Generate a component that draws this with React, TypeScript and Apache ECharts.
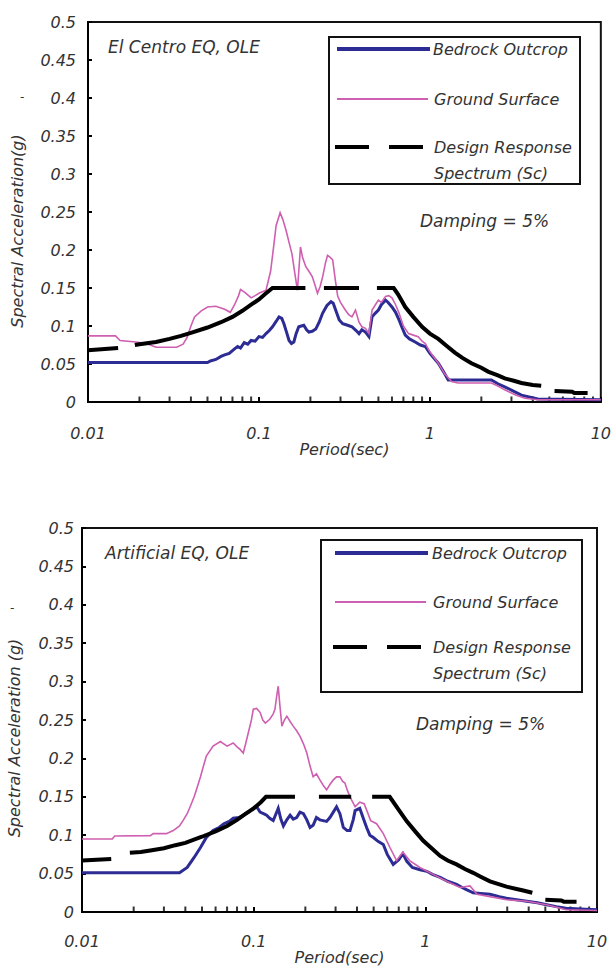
import React, { useEffect, useRef } from "react";
import * as echarts from "echarts";

const FONT = "DejaVu Sans";

const xTickValues = [0.01, 0.1, 1, 10];
const yTickInterval = 0.05;
const minorTicks = [
  0.02, 0.03, 0.04, 0.05, 0.06, 0.07, 0.08, 0.09,
  0.2, 0.3, 0.4, 0.5, 0.6, 0.7, 0.8, 0.9,
  2, 3, 4, 5, 6, 7, 8, 9,
];

const seriesNames = ["Bedrock Outcrop", "Ground Surface", "Design Response Spectrum (Sc)"];
const chartTitles = ["El Centro EQ, OLE", "Artificial EQ, OLE"];

// ---------- Top chart: El Centro EQ, OLE ----------
const bedrockTop: (number | string)[][] = [
  [0.01, 0.052], [0.05, 0.052], [0.052, 0.054], [0.056, 0.056], [0.06, 0.06], [0.063, 0.062],
  [0.067, 0.064], [0.072, 0.07], [0.075, 0.073], [0.078, 0.071], [0.082, 0.078], [0.086, 0.076],
  [0.09, 0.081], [0.095, 0.08], [0.1, 0.086], [0.105, 0.085], [0.11, 0.09], [0.115, 0.094],
  [0.12, 0.099], [0.126, 0.106], [0.131, 0.112], [0.136, 0.11], [0.14, 0.103], [0.145, 0.092],
  [0.15, 0.081], [0.155, 0.077], [0.16, 0.079], [0.165, 0.09], [0.171, 0.099], [0.177, 0.1],
  [0.183, 0.101], [0.19, 0.095], [0.196, 0.092], [0.205, 0.093], [0.215, 0.096], [0.225, 0.105],
  [0.236, 0.117], [0.25, 0.127], [0.264, 0.132], [0.272, 0.13], [0.281, 0.121], [0.295, 0.108],
  [0.309, 0.103], [0.33, 0.101], [0.35, 0.099], [0.37, 0.094], [0.385, 0.09], [0.4, 0.095],
  [0.42, 0.092], [0.44, 0.086], [0.459, 0.112], [0.48, 0.117], [0.5, 0.121], [0.52, 0.128],
  [0.55, 0.134], [0.57, 0.131], [0.6, 0.125], [0.63, 0.118], [0.66, 0.108], [0.69, 0.097],
  [0.718, 0.088], [0.76, 0.083], [0.82, 0.079], [0.88, 0.075], [0.94, 0.073], [1.0, 0.064],
  [1.12, 0.051], [1.2, 0.04], [1.28, 0.029], [1.46, 0.029], [2.29, 0.029], [2.5, 0.024],
  [2.74, 0.02], [3.1, 0.014], [3.43, 0.009], [4.28, 0.004], [10, 0.003],
];

const groundTop: (number | string)[][] = [
  [0.01, 0.087], [0.0145, 0.087], [0.0154, 0.081], [0.019, 0.079], [0.022, 0.077], [0.025, 0.072],
  [0.033, 0.072], [0.036, 0.076], [0.038, 0.085], [0.04, 0.1], [0.042, 0.112], [0.046, 0.12],
  [0.05, 0.125], [0.056, 0.126], [0.063, 0.122], [0.068, 0.118], [0.072, 0.128], [0.076, 0.14],
  [0.078, 0.148], [0.082, 0.145], [0.086, 0.141], [0.09, 0.137], [0.095, 0.14], [0.1, 0.143],
  [0.11, 0.147], [0.117, 0.172], [0.122, 0.205], [0.126, 0.232], [0.133, 0.249], [0.138, 0.24],
  [0.144, 0.226], [0.15, 0.21], [0.156, 0.195], [0.162, 0.17], [0.168, 0.147], [0.172, 0.18],
  [0.175, 0.204], [0.18, 0.19], [0.188, 0.178], [0.196, 0.172], [0.205, 0.165], [0.212, 0.155],
  [0.22, 0.143], [0.228, 0.152], [0.236, 0.165], [0.245, 0.183], [0.252, 0.193], [0.262, 0.19],
  [0.27, 0.187], [0.28, 0.16], [0.289, 0.139], [0.3, 0.131], [0.32, 0.121], [0.335, 0.115],
  [0.35, 0.112], [0.367, 0.121], [0.385, 0.105], [0.4, 0.099], [0.42, 0.097], [0.44, 0.09],
  [0.459, 0.121], [0.48, 0.128], [0.5, 0.134], [0.52, 0.131], [0.55, 0.139], [0.575, 0.14],
  [0.6, 0.137], [0.63, 0.128], [0.66, 0.117], [0.7, 0.1], [0.75, 0.09], [0.8, 0.088],
  [0.855, 0.086], [0.9, 0.08], [0.94, 0.077], [1.0, 0.066], [1.12, 0.051], [1.22, 0.037],
  [1.34, 0.027], [1.46, 0.025], [2.29, 0.025], [2.5, 0.021], [2.74, 0.016], [3.2, 0.009],
  [3.6, 0.005], [4.28, 0.003], [10, 0.003],
];

// "-" marks the gaps of the long-dash line
const designTop: (number | string)[][] = [
  [0.01, 0.068], [0.015, 0.071], [0.0168, "-"], [0.0188, 0.075], [0.02, 0.076], [0.025, 0.079],
  [0.03, 0.083], [0.035, 0.087], [0.04, 0.091], [0.05, 0.098], [0.06, 0.105], [0.07, 0.112],
  [0.08, 0.12], [0.09, 0.128], [0.1, 0.135], [0.11, 0.143], [0.12, 0.15], [0.187, 0.15],
  [0.21, "-"], [0.24, 0.15], [0.385, 0.15], [0.43, "-"], [0.49, 0.15], [0.614, 0.15],
  [0.65, 0.142], [0.718, 0.125], [0.8, 0.112], [0.9, 0.099], [1.0, 0.09], [1.12, 0.083],
  [1.25, 0.074], [1.4, 0.065], [1.55, 0.058], [1.75, 0.051], [2.0, 0.045], [2.19, 0.04],
  [2.5, 0.035], [2.74, 0.031], [3.1, 0.028], [3.43, 0.025], [4.0, 0.0225], [4.48, 0.0215],
  [5.0, "-"], [5.36, 0.0145], [6.8, 0.0135], [7.0, 0.0118], [8.37, 0.0118],
];

// ---------- Bottom chart: Artificial EQ, OLE ----------
const bedrockBottom: (number | string)[][] = [
  [0.01, 0.051], [0.037, 0.051], [0.041, 0.058], [0.045, 0.071], [0.049, 0.084], [0.053, 0.097],
  [0.058, 0.106], [0.063, 0.11], [0.067, 0.115], [0.072, 0.118], [0.076, 0.122], [0.082, 0.123],
  [0.087, 0.126], [0.093, 0.13], [0.0995, 0.135], [0.104, 0.137], [0.109, 0.13], [0.114, 0.128],
  [0.119, 0.126], [0.124, 0.122], [0.13, 0.119], [0.135, 0.128], [0.139, 0.135], [0.144, 0.121],
  [0.149, 0.112], [0.156, 0.12], [0.163, 0.126], [0.17, 0.121], [0.178, 0.123], [0.186, 0.13],
  [0.195, 0.128], [0.204, 0.12], [0.213, 0.11], [0.222, 0.113], [0.232, 0.123], [0.243, 0.12],
  [0.254, 0.119], [0.266, 0.118], [0.278, 0.123], [0.291, 0.13], [0.304, 0.137], [0.318, 0.128],
  [0.333, 0.11], [0.35, 0.106], [0.364, 0.106], [0.38, 0.12], [0.39, 0.132], [0.415, 0.135],
  [0.435, 0.122], [0.455, 0.11], [0.475, 0.1], [0.498, 0.097], [0.53, 0.092], [0.569, 0.088],
  [0.6, 0.075], [0.65, 0.062], [0.7, 0.068], [0.74, 0.076], [0.78, 0.066], [0.84, 0.058],
  [0.93, 0.055], [1.02, 0.053], [1.1, 0.049], [1.22, 0.045], [1.35, 0.04], [1.52, 0.036],
  [1.7, 0.03], [1.9, 0.025], [2.1, 0.024], [2.38, 0.023], [2.7, 0.02], [2.97, 0.018],
  [3.4, 0.016], [3.9, 0.014], [4.5, 0.012], [5.1, 0.0095], [5.8, 0.007], [6.6, 0.005],
  [8, 0.004], [10, 0.003],
];

const groundBottom: (number | string)[][] = [
  [0.01, 0.095], [0.015, 0.095], [0.0155, 0.099], [0.025, 0.0995], [0.026, 0.102], [0.031, 0.102],
  [0.034, 0.106], [0.037, 0.112], [0.039, 0.12], [0.041, 0.128], [0.043, 0.139], [0.045, 0.15],
  [0.047, 0.163], [0.049, 0.176], [0.051, 0.19], [0.053, 0.203], [0.058, 0.216], [0.064, 0.222],
  [0.07, 0.216], [0.076, 0.22], [0.08, 0.215], [0.083, 0.212], [0.087, 0.207], [0.09, 0.22],
  [0.093, 0.233], [0.097, 0.25], [0.0995, 0.264], [0.104, 0.265], [0.109, 0.26], [0.113, 0.25],
  [0.117, 0.246], [0.124, 0.251], [0.13, 0.258], [0.133, 0.264], [0.136, 0.28], [0.139, 0.294],
  [0.142, 0.27], [0.146, 0.242], [0.151, 0.25], [0.156, 0.255], [0.163, 0.248], [0.17, 0.242],
  [0.178, 0.236], [0.186, 0.229], [0.195, 0.219], [0.204, 0.207], [0.213, 0.19], [0.222, 0.176],
  [0.232, 0.18], [0.243, 0.172], [0.254, 0.165], [0.266, 0.159], [0.278, 0.166], [0.291, 0.172],
  [0.304, 0.176], [0.318, 0.176], [0.33, 0.17], [0.34, 0.168], [0.352, 0.158], [0.364, 0.15],
  [0.39, 0.137], [0.415, 0.143], [0.44, 0.141], [0.46, 0.13], [0.48, 0.119], [0.52, 0.115],
  [0.569, 0.102], [0.622, 0.084], [0.68, 0.067], [0.74, 0.078], [0.81, 0.067], [0.93, 0.058],
  [1.11, 0.049], [1.33, 0.04], [1.59, 0.032], [1.82, 0.034], [2.0, 0.023], [2.38, 0.02],
  [2.97, 0.016], [3.9, 0.014], [5.1, 0.0095], [6.6, 0.003], [10, 0.002],
];

const designBottom: (number | string)[][] = [
  [0.01, 0.067], [0.0148, 0.069], [0.0168, "-"], [0.019, 0.077], [0.022, 0.078], [0.025, 0.08],
  [0.03, 0.083], [0.035, 0.087], [0.04, 0.09], [0.05, 0.098], [0.06, 0.105], [0.07, 0.112],
  [0.08, 0.12], [0.09, 0.128], [0.1, 0.135], [0.11, 0.143], [0.118, 0.15], [0.174, 0.15],
  [0.205, "-"], [0.24, 0.15], [0.37, 0.15], [0.43, "-"], [0.49, 0.15], [0.62, 0.15],
  [0.7, 0.133], [0.78, 0.118], [0.88, 0.104], [0.97, 0.093], [1.1, 0.082], [1.22, 0.073],
  [1.35, 0.067], [1.52, 0.062], [1.7, 0.056], [1.9, 0.051], [2.1, 0.046], [2.38, 0.04],
  [2.7, 0.036], [2.97, 0.033], [3.4, 0.03], [3.72, 0.028], [4.2, 0.025], [4.6, "-"],
  [5.0, 0.016], [6.2, 0.015], [6.4, 0.0135], [7.6, 0.0135],
];

const COLORS = { bedrock: "#2c2c94", ground: "#cf5fb0", design: "#000000" };

const labelStyle = {
  fontFamily: FONT,
  fontStyle: "italic",
  fontSize: 16,
  color: "#333",
};

function fmt(v: number) {
  return String(Number(v.toPrecision(3)));
}

const grids = [
  { left: 88, top: 22, width: 515, height: 380 },
  { left: 82, top: 528, width: 515, height: 384 },
];

function buildOption() {
  const xAxis = grids.map((_, i) => ({
    type: "log",
    logBase: 10,
    gridIndex: i,
    min: xTickValues[0],
    max: xTickValues[xTickValues.length - 1],
    name: "Period(sec)",
    nameLocation: "middle",
    nameGap: 37,
    nameTextStyle: { ...labelStyle, fontSize: 16 },
    axisLine: { lineStyle: { color: "#000", width: 2 } },
    axisTick: { inside: true, length: 5, lineStyle: { color: "#000", width: 2 } },
    axisLabel: { ...labelStyle, margin: i === 0 ? 23 : 21, formatter: (v: number) => fmt(v) },
    splitLine: { show: false },
    minorTick: { show: false },
  }));
  const yAxis = grids.map((_, i) => ({
    type: "value",
    gridIndex: i,
    min: 0,
    max: 0.5,
    interval: yTickInterval,
    axisLine: { show: true, lineStyle: { color: "#000", width: 2 } },
    axisTick: { show: true, inside: true, length: 4, lineStyle: { color: "#000", width: 2 } },
    axisLabel: { ...labelStyle, margin: i === 0 ? 12 : 8, formatter: (v: number) => fmt(v) },
    splitLine: { show: false },
  }));

  const datasets = [
    [bedrockTop, groundTop, designTop],
    [bedrockBottom, groundBottom, designBottom],
  ];
  const styles = [
    { color: COLORS.bedrock, width: 3 },
    { color: COLORS.ground, width: 1.6 },
    { color: COLORS.design, width: 4 },
  ];

  const series: any[] = [];
  datasets.forEach((sets, gi) => {
    series.push({
      type: "scatter",
      xAxisIndex: gi,
      yAxisIndex: gi,
      data: minorTicks.map((t) => [t, 0]),
      symbol: "rect",
      symbolSize: [2, 5],
      symbolOffset: [0, -3],
      itemStyle: { color: "#000" },
      silent: true,
      z: 1,
    });
    sets.forEach((d, si) => {
      series.push({
        type: "line",
        name: seriesNames[si],
        xAxisIndex: gi,
        yAxisIndex: gi,
        data: d,
        showSymbol: false,
        symbol: "none",
        connectNulls: false,
        silent: true,
        lineStyle: { color: styles[si].color, width: styles[si].width, join: "miter" },
        z: 2 + si,
      });
    });
  });

  const txt = (text: string, x: number, y: number, size = 16, extra: any = {}) => ({
    type: "text",
    x,
    y,
    silent: true,
    ...extra,
    style: {
      text,
      fill: "#333",
      fontFamily: FONT,
      fontStyle: "italic",
      fontSize: size,
      align: "left",
      verticalAlign: "middle",
      ...(extra.style || {}),
    },
  });
  const line = (x1: number, x2: number, y: number, stroke: string, w: number) => ({
    type: "line",
    silent: true,
    shape: { x1, y1: y, x2, y2: y },
    style: { stroke, lineWidth: w },
  });

  const legendBoxes = [
    { x: 329, y: 37, w: 251, h: 147, lx: 337, lx2: 430, tx: 433, rows: [49, 99, 147, 173] },
    { x: 321, y: 540, w: 261, h: 152, lx: 335, lx2: 428, tx: 432, rows: [553, 602, 647, 673] },
  ];

  const graphic: any[] = [];
  legendBoxes.forEach((b) => {
    graphic.push({
      type: "rect",
      silent: true,
      shape: { x: b.x, y: b.y, width: b.w, height: b.h },
      style: { fill: "#fff", stroke: "#111", lineWidth: 2 },
    });
    graphic.push(line(b.lx, b.lx2, b.rows[0], COLORS.bedrock, 4));
    graphic.push(line(b.lx, b.lx2 - 2, b.rows[1], COLORS.ground, 2));
    graphic.push(line(b.lx - 2, b.lx + 32, b.rows[2], COLORS.design, 4));
    graphic.push(line(b.lx + 52, b.lx + 86, b.rows[2], COLORS.design, 4));
    graphic.push(txt(seriesNames[0], b.tx, b.rows[0]));
    graphic.push(txt(seriesNames[1], b.tx + 1, b.rows[1]));
    graphic.push(txt("Design Response", b.tx + 1, b.rows[2]));
    graphic.push(txt("Spectrum (Sc)", b.tx + 1, b.rows[3]));
  });

  graphic.push(txt(chartTitles[0], 108, 47, 17));
  graphic.push(txt(chartTitles[1], 105, 553, 17));
  graphic.push(txt("Damping = 5%", 420, 221, 17));
  graphic.push(txt("Damping = 5%", 416, 724, 17));

  const rot = { rotation: Math.PI / 2 };
  graphic.push(txt("Spectral Acceleration(g)", 17, 231, 16, { ...rot, style: { align: "center" } }));
  graphic.push(txt("Spectral Acceleration (g)", 14, 738, 16, { ...rot, style: { align: "center" } }));
  graphic.push(txt("-", 20, 97, 12));
  graphic.push(txt("-", 10, 608, 12));

  return {
    animation: false,
    backgroundColor: "#fff",
    textStyle: { fontFamily: FONT },
    grid: grids.map((g) => ({ ...g, show: true, borderColor: "#111", borderWidth: 2, containLabel: false })),
    xAxis,
    yAxis,
    series,
    graphic,
  };
}

export default function App() {
  const ref = useRef<HTMLDivElement>(null);
  useEffect(() => {
    if (!ref.current) return;
    const chart = echarts.init(ref.current, undefined, { renderer: "svg" });
    chart.setOption(buildOption() as any);
    return () => chart.dispose();
  }, []);
  return (
    <div
      ref={ref}
      style={{ position: "fixed", left: 0, top: 0, width: 614, height: 969, background: "#fff" }}
    />
  );
}
